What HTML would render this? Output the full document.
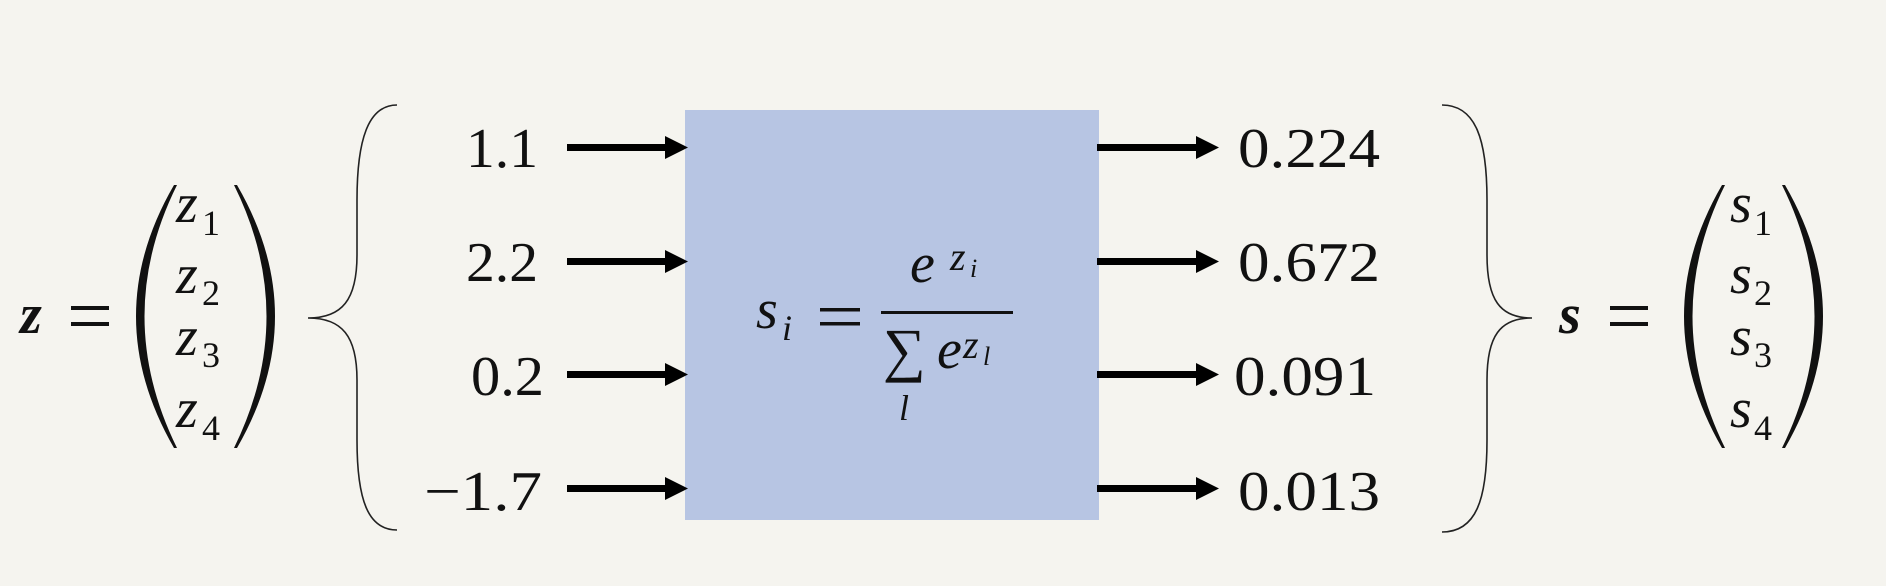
<!DOCTYPE html>
<html><head><meta charset="utf-8"><style>
html,body{margin:0;padding:0;background:#f5f4ef;}
svg{display:block;}
text{font-family:"Liberation Serif",serif;fill:#111;}
.i{font-style:italic;}
</style></head><body>
<svg width="1886" height="586" viewBox="0 0 1886 586" xmlns="http://www.w3.org/2000/svg">
<rect width="1886" height="586" fill="#f5f4ef"/>
<rect x="685" y="110" width="414" height="410" fill="#b7c5e3"/>

<text x="20" y="333" font-size="56" font-weight="bold" class="i">z</text>
<rect x="71" y="306" width="38" height="4" fill="#111"/>
<rect x="71" y="322" width="38" height="4" fill="#111"/>
<path d="M174,185 Q98,316 174,448 L177,448 Q112,316 177,185 Z" fill="#111"/>
<path d="M237,185 Q313,316 237,448 L234,448 Q299,316 234,185 Z" fill="#111"/>
<g font-size="56">
<text x="176" y="222" class="i">z</text><text x="176" y="293" class="i">z</text>
<text x="176" y="355" class="i">z</text><text x="176" y="427" class="i">z</text>
</g>
<g font-size="36">
<text x="202" y="235">1</text><text x="202" y="305">2</text>
<text x="202" y="367">3</text><text x="202" y="440">4</text>
</g>

<path d="M397,105 C368,105 357,140 357,200 L357,255 C357,300 342,318 308,318 C342,318 357,336 357,380 L357,440 C357,500 368,530 397,530" fill="none" stroke="#222" stroke-width="1.6"/>

<g font-size="56">
<text x="466" y="167" textLength="72" lengthAdjust="spacingAndGlyphs">1.1</text>
<text x="466" y="281" textLength="72" lengthAdjust="spacingAndGlyphs">2.2</text>
<text x="471" y="395" textLength="73" lengthAdjust="spacingAndGlyphs">0.2</text>
<text x="424" y="510" textLength="118" lengthAdjust="spacingAndGlyphs">−1.7</text>
</g>

<g fill="#000">
<rect x="567" y="144" width="100" height="7"/><polygon points="665,136 688,147.5 665,159"/>
<rect x="567" y="258" width="100" height="7"/><polygon points="665,250 688,261.5 665,273"/>
<rect x="567" y="371" width="100" height="7"/><polygon points="665,363 688,374.5 665,386"/>
<rect x="567" y="485" width="100" height="7"/><polygon points="665,477 688,488.5 665,500"/>
<rect x="1097" y="144" width="102" height="7"/><polygon points="1196,136 1219,147.5 1196,159"/>
<rect x="1097" y="258" width="102" height="7"/><polygon points="1196,250 1219,261.5 1196,273"/>
<rect x="1097" y="371" width="102" height="7"/><polygon points="1196,363 1219,374.5 1196,386"/>
<rect x="1097" y="485" width="102" height="7"/><polygon points="1196,477 1219,488.5 1196,500"/>
</g>

<text x="756" y="328" font-size="56" class="i">s</text>
<text x="782" y="340" font-size="36" class="i">i</text>
<rect x="820" y="308" width="40" height="3.5" fill="#111"/>
<rect x="820" y="322" width="40" height="3.5" fill="#111"/>
<rect x="881" y="311" width="132" height="3" fill="#111"/>
<text x="910" y="282" font-size="56" class="i">e</text>
<text x="950" y="270" font-size="40" class="i">z</text>
<text x="970" y="277" font-size="26" class="i">i</text>
<text x="883" y="370" font-size="60">∑</text>
<text x="899" y="420" font-size="36" class="i">l</text>
<text x="937" y="368" font-size="56" class="i">e</text>
<text x="963" y="358" font-size="40" class="i">z</text>
<text x="983" y="365" font-size="26" class="i">l</text>

<g font-size="56">
<text x="1238" y="167" textLength="142" lengthAdjust="spacingAndGlyphs">0.224</text>
<text x="1238" y="281" textLength="142" lengthAdjust="spacingAndGlyphs">0.672</text>
<text x="1234" y="395" textLength="142" lengthAdjust="spacingAndGlyphs">0.091</text>
<text x="1238" y="510" textLength="142" lengthAdjust="spacingAndGlyphs">0.013</text>
</g>

<path d="M1442,105 C1476,105 1487,140 1487,200 L1487,255 C1487,300 1500,318 1532,318 C1500,318 1487,336 1487,380 L1487,440 C1487,500 1476,532 1442,532" fill="none" stroke="#222" stroke-width="1.6"/>

<text x="1559" y="333" font-size="56" font-weight="bold" class="i">s</text>
<rect x="1610" y="306" width="38" height="4" fill="#111"/>
<rect x="1610" y="322" width="38" height="4" fill="#111"/>
<path d="M1722,185 Q1646,316 1722,448 L1725,448 Q1660,316 1725,185 Z" fill="#111"/>
<path d="M1785,185 Q1861,316 1785,448 L1782,448 Q1847,316 1782,185 Z" fill="#111"/>
<g font-size="56">
<text x="1730" y="222" class="i">s</text><text x="1730" y="293" class="i">s</text>
<text x="1730" y="355" class="i">s</text><text x="1730" y="427" class="i">s</text>
</g>
<g font-size="36">
<text x="1754" y="235">1</text><text x="1754" y="305">2</text>
<text x="1754" y="367">3</text><text x="1754" y="440">4</text>
</g>
</svg>
</body></html>
